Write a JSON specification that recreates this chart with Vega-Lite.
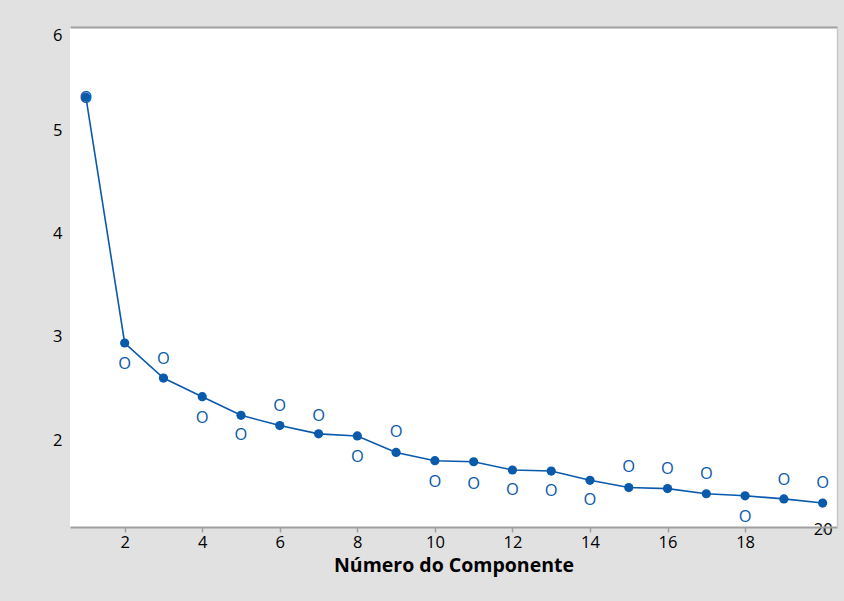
{
  "$schema": "https://vega.github.io/schema/vega-lite/v6.json",
  "autosize": {"type": "none"},
  "padding": {"left": 70, "top": 27, "right": 7, "bottom": 74},
  "width": 767,
  "height": 500,
  "background": "#e1e1e1",
  "config": {
    "view": {"fill": "white", "stroke": null},
    "font": "Open Sans"
  },
  "data": {
    "values": [
      {"comp": 1, "valor": 5.32, "o": 5.32},
      {"comp": 2, "valor": 2.94, "o": 2.745},
      {"comp": 3, "valor": 2.60, "o": 2.79},
      {"comp": 4, "valor": 2.42, "o": 2.22},
      {"comp": 5, "valor": 2.24, "o": 2.05},
      {"comp": 6, "valor": 2.14, "o": 2.33},
      {"comp": 7, "valor": 2.06, "o": 2.24},
      {"comp": 8, "valor": 2.04, "o": 1.845},
      {"comp": 9, "valor": 1.88, "o": 2.08},
      {"comp": 10, "valor": 1.80, "o": 1.60},
      {"comp": 11, "valor": 1.79, "o": 1.58},
      {"comp": 12, "valor": 1.71, "o": 1.52},
      {"comp": 13, "valor": 1.70, "o": 1.51},
      {"comp": 14, "valor": 1.61, "o": 1.42},
      {"comp": 15, "valor": 1.54, "o": 1.74},
      {"comp": 16, "valor": 1.53, "o": 1.72},
      {"comp": 17, "valor": 1.48, "o": 1.68},
      {"comp": 18, "valor": 1.46, "o": 1.26},
      {"comp": 19, "valor": 1.43, "o": 1.62},
      {"comp": 20, "valor": 1.39, "o": 1.59}
    ]
  },
  "resolve": {"axis": {"x": "independent", "y": "independent"}},
  "layer": [
    {
      "mark": {"type": "line", "color": "#0a5aab", "strokeWidth": 1.6, "point": {"filled": true, "size": 85, "color": "#0a5aab", "opacity": 1}},
      "encoding": {
        "x": {
          "field": "comp", "type": "quantitative",
          "scale": {"domain": [0.59, 20.37], "nice": false, "zero": false},
          "axis": {
            "values": [2, 4, 6, 8, 10, 12, 14, 16, 18, 20],
            "title": "Número do Componente",
            "titleFontSize": 19.5, "titleFontWeight": "bold", "titleColor": "#000000", "titlePadding": 6,
            "labelFontSize": 16.5, "labelColor": "#000000",
            "labelPadding": {"condition": {"test": "datum.value == 20", "value": -11}, "value": 2},
            "labelFlush": false,
            "grid": false,
            "domainColor": "#a0a0a0", "domainWidth": 2,
            "tickColor": "#a0a0a0", "tickSize": 5, "tickWidth": 1.5
          }
        },
        "y": {
          "field": "valor", "type": "quantitative",
          "scale": {"domain": [1.158, 6], "nice": false, "zero": false},
          "axis": {
            "values": [2, 3, 4, 5, 6],
            "title": null,
            "labelFontSize": 16.5, "labelColor": "#000000",
            "labelPadding": 8, "labelFlush": true,
            "grid": false, "domain": false, "ticks": false
          }
        }
      }
    },
    {
      "mark": {"type": "text", "color": "#0a5aab", "fontSize": 16.5, "baseline": "middle", "align": "center", "dy": 0.5},
      "encoding": {
        "x": {"field": "comp", "type": "quantitative", "axis": {"orient": "top", "labels": false, "ticks": false, "title": null, "grid": false, "domainColor": "#a0a0a0", "domainWidth": 2}},
        "y": {"field": "o", "type": "quantitative", "axis": {"orient": "right", "labels": false, "ticks": false, "title": null, "grid": false, "domainColor": "#c8c8c8", "domainWidth": 1.5}},
        "text": {"value": "O"}
      }
    }
  ]
}
